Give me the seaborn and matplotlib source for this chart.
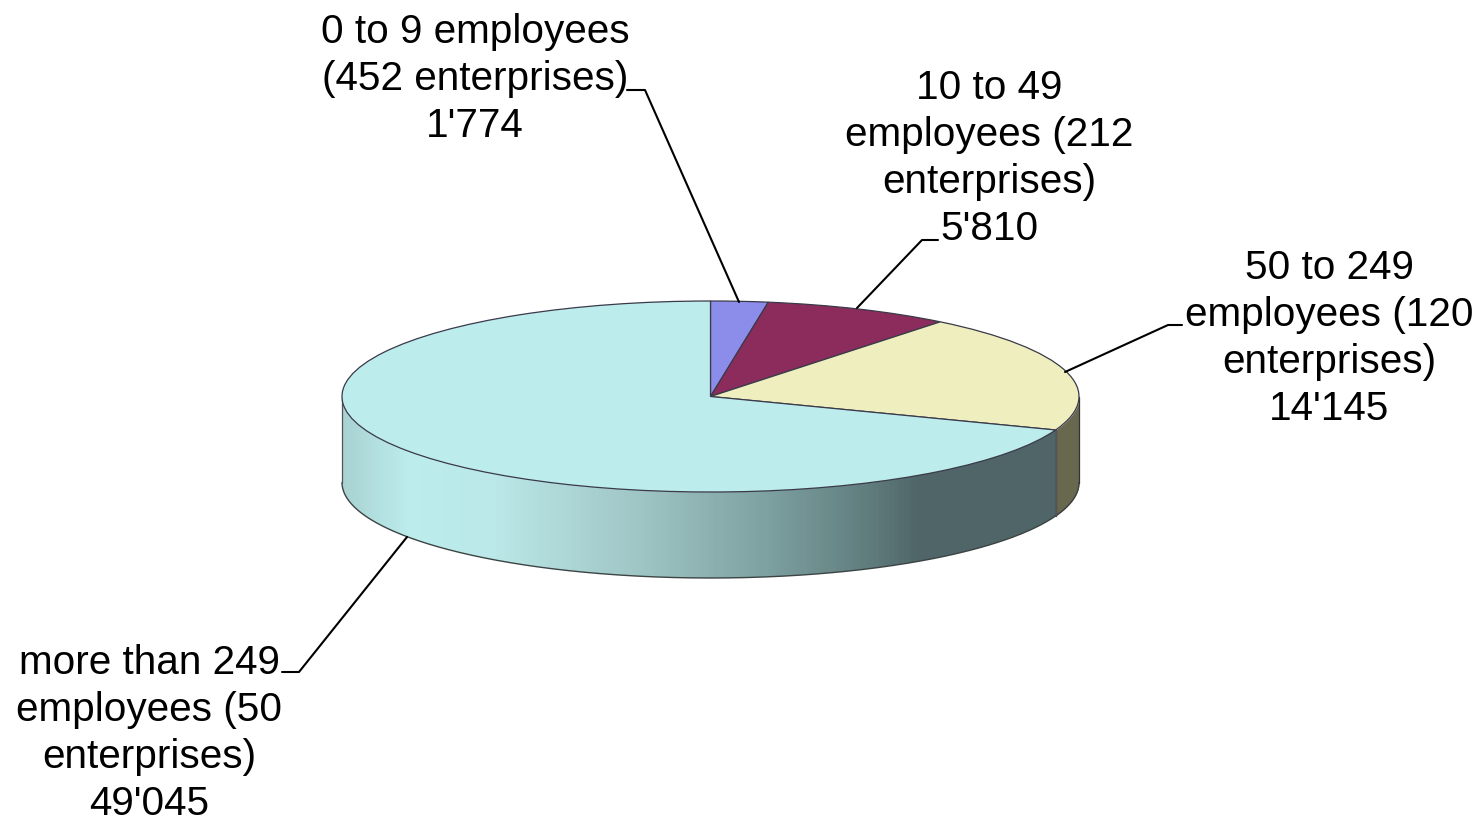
import numpy as np
import matplotlib
matplotlib.use("Agg")
import matplotlib.pyplot as plt
from matplotlib.colors import LinearSegmentedColormap
import seaborn as sns

# employees per size class
values = [1774, 5810, 14145, 49045]
labels = [
    "0 to 9 employees\n(452 enterprises)\n1'774",
    "10 to 49\nemployees (212\nenterprises)\n5'810",
    "50 to 249\nemployees (120\nenterprises)\n14'145",
    "more than 249\nemployees (50\nenterprises)\n49'045",
]
colors = ["#8c8ceb", "#8b2c5c", "#eeeebe", "#bcecec"]

sns.set_theme(style="white")
plt.rcParams["font.family"] = ["Liberation Sans", "DejaVu Sans"]

W, H = 1478, 816
cx, cy, rx, ry, depth = 710.5, 396.5, 368.5, 95.5, 86

fig = plt.figure(figsize=(W / 100, H / 100), dpi=100)
ax = fig.add_axes([0, 0, 1, 1])

# top face, squashed through the axis limits
ax.pie(values, colors=colors, startangle=90, counterclock=False,
       wedgeprops=dict(edgecolor="#3a3a4a", linewidth=0.9, zorder=5))
ax.set_aspect("auto")
ax.set_xlim(-cx / rx, (W - cx) / rx)
ax.set_ylim((cy - H) / ry, cy / ry)
ax.axis("off")

edges = np.cumsum([0] + values) / sum(values) * 2 * np.pi
d = depth / ry

# side walls
shade = LinearSegmentedColormap.from_list("shade", [
    (0.0, "#a9d2d2"), (0.095, "#bcecec"), (0.21, "#bbe8e8"),
    (0.42, "#9fc4c4"), (0.6, "#7c9f9f"), (0.73, "#627f80"),
    (0.81, "#4f6567"), (1.0, "#4f6567")])


def wall(a, b, color=None):
    t = np.linspace(a, b, 500)
    x = np.sin(t)
    top = np.cos(t)
    X = np.vstack([x, x])
    Y = np.vstack([top, top - d])
    if color is None:
        c = ((x[:-1] + x[1:]) / 2 + 1) / (np.sin(edges[3]) + 1)
        ax.pcolormesh(X, Y, c[None, :], cmap=shade, vmin=0, vmax=1,
                      shading="flat", zorder=2, linewidth=0, rasterized=True)
    else:
        ax.fill_between(x, top, top - d, color=color, lw=0, zorder=2)
    ax.plot(x, top - d, color="#3c4444", lw=1, zorder=3)
    ax.plot([x[0], x[0]], [top[0], top[0] - d], color="#333333", lw=0.9, zorder=3)
    ax.plot([x[-1], x[-1]], [top[-1], top[-1] - d], color="#555555", lw=0.9, zorder=3)


wall(edges[3], 1.5 * np.pi)
wall(np.pi / 2, edges[3], color="#68684f")

# labels and leader lines, in pixels of the picture
over = fig.add_axes([0, 0, 1, 1], facecolor="none")
over.set_xlim(0, W)
over.set_ylim(H, 0)
over.axis("off")

label_pos = [(475, 79), (989, 158.5), (1329, 338.5), (149, 733.5)]
leaders = [
    ([627, 645, 739], [90, 90, 302]),
    ([938, 922, 857], [240, 240, 308]),
    ([1182, 1168, 1065], [325, 325, 372]),
    ([282, 299, 407], [672, 672, 537]),
]
for text, (lx, ly), (px, py) in zip(labels, label_pos, leaders):
    over.text(lx, ly, text, ha="center", va="center", fontsize=29.2,
              color="black", linespacing=1.29)
    over.plot(px, py, color="black", lw=1.5)

fig.savefig("out.png", dpi=100)
